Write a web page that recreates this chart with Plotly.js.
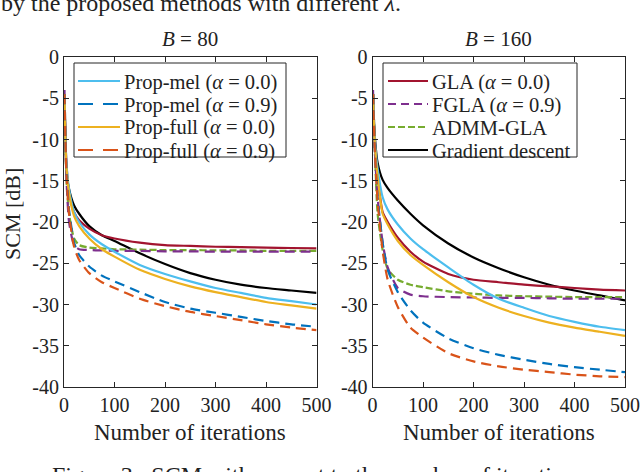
<!DOCTYPE html>
<html>
<head>
<meta charset="utf-8">
<script src="https://cdn.plot.ly/plotly-3.0.1.min.js"></script>
<style>html,body{margin:0;padding:0;background:#fff;}#chart{width:640px;height:472px;}</style>
</head>
<body>
<div id="chart"></div>
<script>
// Iterations sampled
const iters = [1, 2, 5, 10, 20, 30, 50, 75, 100, 150, 200, 250, 300, 350, 400, 450, 500];

// B = 80 panel (SCM in dB)
const b80_propMel0   = [-4.5, -8, -13, -16, -18.8, -20, -21.5, -22.7, -23.6, -25.2, -26.3, -27.2, -28.0, -28.6, -29.2, -29.6, -30.0];
const b80_propMel9   = [-4.5, -8, -14, -18.5, -22.5, -24, -25.4, -26.5, -27.2, -28.5, -29.7, -30.5, -31.0, -31.5, -32.0, -32.4, -32.7];
const b80_propFull0  = [-4.5, -8, -13.5, -16.5, -19.3, -20.5, -22.0, -23.3, -24.2, -25.8, -26.9, -27.8, -28.5, -29.1, -29.7, -30.1, -30.5];
const b80_propFull9  = [-4.5, -8, -14.5, -19, -23, -24.6, -26.2, -27.3, -28.0, -29.3, -30.2, -30.9, -31.4, -31.9, -32.4, -32.8, -33.1];
const b80_gla        = [-4.5, -8, -13, -16.5, -18.8, -19.8, -20.8, -21.6, -22.0, -22.5, -22.8, -22.9, -23.0, -23.05, -23.1, -23.15, -23.2];
const b80_fgla       = [-4, -8, -15, -20, -22.8, -23.3, -23.4, -23.45, -23.5, -23.5, -23.55, -23.55, -23.6, -23.6, -23.6, -23.6, -23.6];
const b80_admm       = [-5, -9, -15, -19, -22, -22.8, -23.1, -23.2, -23.3, -23.35, -23.4, -23.4, -23.45, -23.45, -23.5, -23.5, -23.5];
const b80_gd         = [-4.5, -7, -14, -16, -18, -19, -20.5, -21.6, -22.3, -23.8, -25.1, -26.2, -27.0, -27.6, -28.0, -28.3, -28.6];

// B = 160 panel (SCM in dB)
const b160_propMel0  = [-4.5, -7, -10.5, -13.5, -17, -18.5, -20.3, -22, -23.3, -25.5, -27.6, -29.3, -30.4, -31.4, -32.1, -32.7, -33.1];
const b160_propMel9  = [-4.5, -7, -12, -17, -22.5, -25.8, -28.5, -30.7, -32.2, -34.1, -35.3, -36.1, -36.7, -37.2, -37.6, -37.9, -38.2];
const b160_propFull0 = [-4.5, -7, -11, -14.5, -19, -20.3, -22.3, -24, -25.2, -27.3, -29.1, -30.4, -31.4, -32.2, -32.8, -33.3, -33.8];
const b160_propFull9 = [-4.5, -7, -12, -17.5, -23.5, -27, -30.3, -32.8, -34.0, -35.9, -36.9, -37.5, -37.9, -38.2, -38.5, -38.7, -38.8];
const b160_gla       = [-4.5, -7, -11, -14.5, -18.8, -20, -21.9, -23.6, -24.8, -26.3, -27.0, -27.3, -27.6, -27.8, -28.0, -28.2, -28.3];
const b160_fgla      = [-4, -7, -12, -17, -22.5, -25.5, -28, -28.8, -29.0, -29.1, -29.15, -29.2, -29.2, -29.25, -29.3, -29.3, -29.3];
const b160_admm      = [-4.5, -6, -12, -19, -23.4, -25.7, -27.0, -27.6, -27.9, -28.4, -28.7, -28.9, -29.0, -29.05, -29.1, -29.1, -29.1];
const b160_gd        = [-4.5, -6.5, -10, -12.8, -14.9, -15.9, -17.4, -19.0, -20.4, -22.6, -24.3, -25.6, -26.7, -27.6, -28.3, -28.9, -29.5];

const names = ["Prop-mel (<i>α</i> = 0.0)", "Prop-mel (<i>α</i> = 0.9)",
               "Prop-full (<i>α</i> = 0.0)", "Prop-full (<i>α</i> = 0.9)",
               "GLA (<i>α</i> = 0.0)", "FGLA (<i>α</i> = 0.9)",
               "ADMM-GLA", "Gradient descent"];
const colors = ["#4DBEEE", "#0072BD", "#EDB120", "#D95319", "#A2142F", "#7E2F8E", "#77AC30", "#000000"];
const dashes = ["solid", "10px,6px", "solid", "10px,6px", "solid", "10px,6px", "7px,3px", "solid"];
const legendDashes = ["solid", "15px,10px", "solid", "15px,10px", "solid", "8px,5px", "7px,3px", "solid"];

const yTicks = [0, -5, -10, -15, -20, -25, -30, -35, -40];
const yTickText = ["0", "-5", "-10", "-15", "-20", "-25", "-30", "-35", "-40"];
const xTicks = [0, 100, 200, 300, 400, 500];

const left = [b80_propMel0, b80_propMel9, b80_propFull0, b80_propFull9, b80_gla, b80_fgla, b80_admm, b80_gd];
const right = [b160_propMel0, b160_propMel9, b160_propFull0, b160_propFull9, b160_gla, b160_fgla, b160_admm, b160_gd];

const drawOrder = [7, 4, 6, 5, 0, 2, 1, 3];
const traces = [];
[[left, 'x', 'y'], [right, 'x2', 'y2']].forEach(([set, xa, ya]) => {
  drawOrder.forEach(i => {
    traces.push({x: iters, y: set[i], type: 'scatter', mode: 'lines', name: names[i],
      line: {color: colors[i], width: 2.2, dash: dashes[i], shape: 'spline', smoothing: 0.6},
      xaxis: xa, yaxis: ya, showlegend: false, hoverinfo: 'skip'});
  });
});

const FAM = 'Liberation Serif, Times New Roman, serif';
const INK = '#222';
const tickFont = {family: FAM, size: 20, color: INK};
const axCommon = {showgrid: false, zeroline: false, showline: true, linecolor: '#262626', linewidth: 1,
  mirror: 'ticks', ticks: 'inside', ticklen: 5, tickcolor: '#262626', tickfont: tickFont};
const xa = Object.assign({}, axCommon, {range: [0, 500], tickvals: xTicks, ticktext: xTicks.map(String)});
const ya = Object.assign({}, axCommon, {range: [-40, 0], tickvals: yTicks, ticktext: yTickText});

// pixel -> paper helpers (plot area: left 64, top 57, width 561, height 330)
const PX = px => (px - 64) / 561;
const PY = py => 1 - (py - 57) / 330;

const shapes = [];
const annotations = [];

// Manual legends (boxed), one per panel
const legendSpecs = [
  {items: [0, 1, 2, 3], box: [74, 286, 63, 157], line: [78, 120], textX: 122},
  {items: [4, 5, 6, 7], box: [383, 577, 63, 157], line: [388, 428], textX: 430}
];
const rowY = [81, 104, 127, 150];
legendSpecs.forEach(spec => {
  shapes.push({type: 'rect', xref: 'paper', yref: 'paper', layer: 'above',
    x0: PX(spec.box[0]), x1: PX(spec.box[1]), y0: PY(spec.box[3]), y1: PY(spec.box[2]),
    fillcolor: '#ffffff', line: {color: '#262626', width: 1}});
  spec.items.forEach((i, k) => {
    shapes.push({type: 'line', xref: 'paper', yref: 'paper', layer: 'above',
      x0: PX(spec.line[0]), x1: PX(spec.line[1]), y0: PY(rowY[k]), y1: PY(rowY[k]),
      line: {color: colors[i], width: 2.2, dash: legendDashes[i]}});
    annotations.push({text: names[i], xref: 'paper', yref: 'paper', x: PX(spec.textX), y: PY(rowY[k] + 1),
      xanchor: 'left', yanchor: 'middle', showarrow: false, font: {family: FAM, size: 20.5, color: INK}});
  });
});

// Panel titles
annotations.push({text: '<i>B</i> = 80', xref: 'x', yref: 'paper', x: 250, y: 1,
  yanchor: 'bottom', yshift: 4, showarrow: false, font: {family: FAM, size: 21, color: INK}});
annotations.push({text: '<i>B</i> = 160', xref: 'x2', yref: 'paper', x: 250, y: 1,
  yanchor: 'bottom', yshift: 4, showarrow: false, font: {family: FAM, size: 21, color: INK}});

// Axis titles
annotations.push({text: 'Number of iterations', xref: 'x', yref: 'paper', x: 250, y: PY(432),
  yanchor: 'middle', showarrow: false, font: {family: FAM, size: 23, color: INK}});
annotations.push({text: 'Number of iterations', xref: 'x2', yref: 'paper', x: 250, y: PY(432),
  yanchor: 'middle', showarrow: false, font: {family: FAM, size: 23, color: INK}});
annotations.push({text: 'SCM [dB]', xref: 'paper', yref: 'paper', x: PX(12), y: PY(214), textangle: -90,
  xanchor: 'center', yanchor: 'middle', showarrow: false, font: {family: FAM, size: 22, color: INK}});

// Surrounding page text (cut by the picture edges as in the reference)
annotations.push({text: 'by the proposed methods with different <i>λ</i>.', xref: 'paper', yref: 'paper',
  x: PX(-1), xanchor: 'left', y: PY(2.5), yanchor: 'middle', showarrow: false,
  font: {family: FAM, size: 24, color: INK}});
annotations.push({text: 'Figure 3:  SCM with respect to the number of iterations.', xref: 'paper', yref: 'paper',
  x: PX(50), xanchor: 'left', y: PY(475), yanchor: 'middle', showarrow: false,
  font: {family: FAM, size: 24, color: INK}});

const layout = {
  width: 640, height: 472,
  margin: {l: 64, r: 15, t: 57, b: 85},
  paper_bgcolor: '#fff', plot_bgcolor: '#fff',
  font: {family: FAM, size: 20, color: INK},
  showlegend: false,
  xaxis: Object.assign({}, xa, {domain: [0, 0.4502], anchor: 'y'}),
  yaxis: Object.assign({}, ya, {domain: [0, 1], anchor: 'x'}),
  xaxis2: Object.assign({}, xa, {domain: [0.55, 1], anchor: 'y2'}),
  yaxis2: Object.assign({}, ya, {domain: [0, 1], anchor: 'x2'}),
  shapes: shapes,
  annotations: annotations
};

Plotly.newPlot('chart', traces, layout, {displayModeBar: false, staticPlot: true});
</script>
</body>
</html>
